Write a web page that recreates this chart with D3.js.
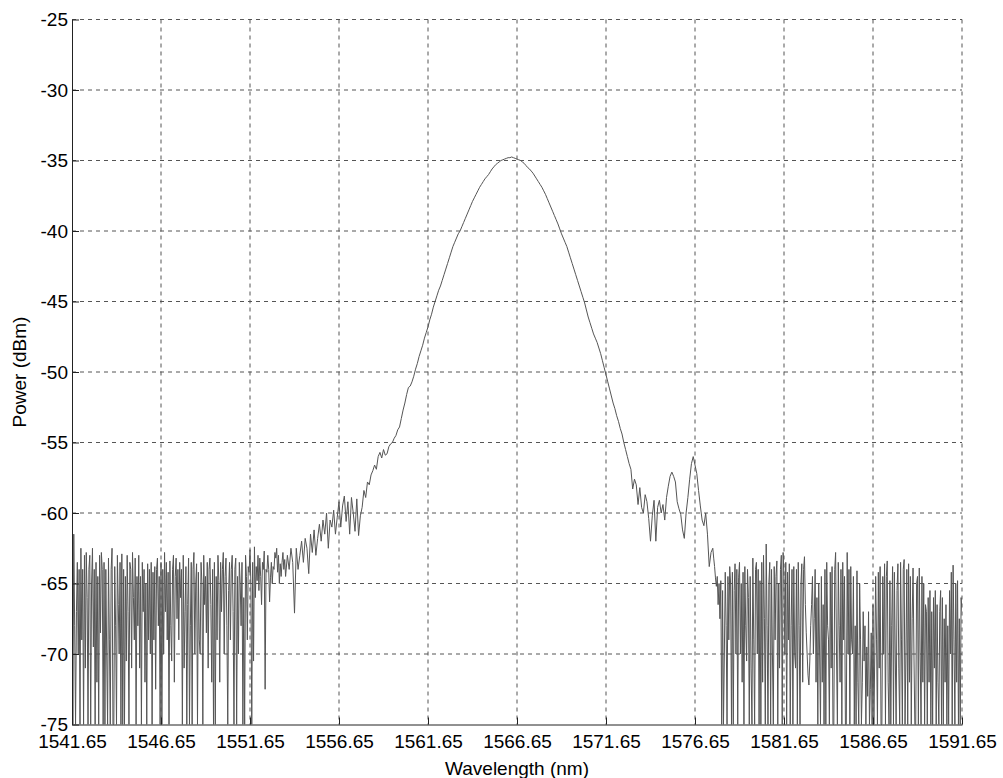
<!DOCTYPE html>
<html>
<head>
<meta charset="utf-8">
<script src="https://cdn.jsdelivr.net/npm/d3@7"></script>
<style>
  html, body { margin: 0; padding: 0; background: #fff; }
  svg { display: block; }
  text { font-family: "Liberation Sans", Arial, sans-serif; fill: #000; }
</style>
</head>
<body>
<svg id="chart" width="1003" height="778"></svg>
<script>
// ---- data ----
const xTickValues = [1541.65, 1546.65, 1551.65, 1556.65, 1561.65, 1566.65, 1571.65, 1576.65, 1581.65, 1586.65, 1591.65];
const yTickValues = [-25, -30, -35, -40, -45, -50, -55, -60, -65, -70, -75];
const xLabel = "Wavelength (nm)";
const yLabel = "Power (dBm)";

// left noise floor: 1541.65 .. 1553.60 nm, every 0.05 nm (dBm, -75 = clipped)
const leftStart = 1541.65, leftStep = 0.05;
const powerLeft = [
  -64.5, -75, -61.5, -68, -75, -67, -63.5, -70, -64, -75,
  -62.5, -69, -64, -75, -63, -71, -62.8, -66, -75, -64,
  -63, -75, -65, -62.5, -69.5, -64, -75, -63.5, -72, -64.5,
  -75, -63, -68.5, -62.8, -64, -75, -63.5, -75, -64, -70,
  -75, -63.2, -69, -75, -64, -62.5, -75, -75, -63.8, -68,
  -75, -63, -66.5, -70, -63.5, -75, -62.9, -75, -64, -75,
  -64.5, -70.5, -63, -67, -75, -63.5, -64, -71, -62.8, -66,
  -69, -63.2, -75, -64.5, -68, -63, -71, -64.5, -75, -63.5,
  -67, -64, -72, -65, -75, -63.6, -69, -64, -70, -63.5,
  -75, -64.2, -69, -63.8, -72.5, -64, -63.2, -68, -64.5, -75,
  -63.5, -75, -64, -70, -62.8, -67, -63.5, -69, -64.2, -75,
  -63.4, -68, -70.5, -64, -63, -72, -64.5, -63.2, -67.5, -64,
  -69, -63.5, -66, -64, -75, -63, -71, -67, -63.8, -75,
  -66.5, -63.2, -75, -68, -63.5, -75, -64, -62.8, -70, -65,
  -63.6, -75, -64.2, -69, -70, -63.5, -65, -75, -63, -66.5,
  -64.5, -68.5, -63.5, -71, -64, -63.2, -66.5, -72, -64, -75,
  -63.5, -75, -64.5, -69, -63, -64.8, -72, -63.5, -67, -64,
  -62.8, -70, -64.5, -63.2, -68, -75, -65.5, -63.5, -69, -64,
  -63, -67, -75, -64, -63.2, -75, -64.5, -70, -63.5, -65,
  -68, -63.5, -75, -66, -75, -63, -64.5, -69, -63.8, -64.2,
  -62.6, -65, -75, -63.5, -70.5, -62.4, -66, -63.8, -64.8, -63,
  -65.5, -63.2, -64.5, -66.5, -63.5, -64, -62.7, -72.5, -64, -64.2,
  -63, -64, -66.3, -64.6, -63.5, -65, -63.8, -64, -62.8, -63.2,
  -62.5, -64.2, -63, -65, -63.6, -64.5, -63.5, -62.8, -64, -63.3
];

// shoulder and main peak: 1553.65 .. 1577.55 nm, every 0.1 nm
const centerStart = 1553.65, centerStep = 0.1;
const powerCenter = [
  -64.5, -63, -64, -62.5, -63.5, -67.1, -62.5, -64, -63, -62,
  -63.5, -61.8, -62.5, -64.3, -61.5, -62.8, -61.2, -63, -61.8, -60.8,
  -62, -60.5, -61.5, -60, -62.5, -60.5, -61, -59.8, -61.5, -60.3,
  -59.2, -61, -59.5, -58.8, -60.6, -59.2, -61.5, -58.9, -60, -61.3,
  -59.0, -61.6, -60.2, -59.6, -58.4, -58.9, -57.8, -58.0, -57.3, -57.0,
  -56.6, -56.9, -56.0, -55.7, -56.1, -55.5, -55.9, -55.8, -55.3, -55.1,
  -55.0, -54.7, -54.5, -54.1, -53.9, -53.3, -52.7, -52.2, -51.6, -51.1,
  -51.0, -50.7, -50.3, -49.8, -49.4, -48.9, -48.5, -48.1, -47.6, -47.2,
  -46.8, -46.3, -45.9, -45.4, -45.0, -44.6, -44.2, -43.9, -43.5, -43.1,
  -42.7, -42.3, -41.9, -41.5, -41.1, -40.8, -40.5, -40.2, -40.0, -39.7,
  -39.4, -39.1, -38.8, -38.5, -38.2, -37.9, -37.65, -37.4, -37.15, -36.9,
  -36.7, -36.5, -36.3, -36.15, -36.0, -35.8, -35.6, -35.45, -35.3, -35.2,
  -35.1, -35.0, -34.95, -34.9, -34.85, -34.8, -34.8, -34.75, -34.8, -34.85,
  -34.9, -34.95, -35.0, -35.1, -35.2, -35.35, -35.5, -35.6, -35.75, -35.9,
  -36.1, -36.3, -36.5, -36.7, -36.9, -37.15, -37.4, -37.7, -38.0, -38.3,
  -38.6, -38.9, -39.2, -39.5, -39.85, -40.2, -40.5, -40.8, -41.1, -41.5,
  -41.9, -42.3, -42.7, -43.1, -43.5, -43.9, -44.3, -44.7, -45.1, -45.6,
  -46.1, -46.5, -46.9, -47.3, -47.6, -47.9, -48.3, -48.7, -49.2, -49.7,
  -50.2, -50.7, -51.2, -51.7, -52.2, -52.6, -53.1, -53.5, -54.0, -54.4,
  -55.0, -55.5, -56.0, -56.5, -56.9, -58.3, -57.6, -58.0, -59.4, -58.2,
  -59.6, -60.0, -58.7, -59.2, -60.4, -62.0, -60.2, -59.1, -62.0, -59.6,
  -59.1, -60.0, -59.4, -60.5, -58.9, -58.1, -57.4, -57.1, -57.4, -57.8,
  -59.2, -59.7, -60.1, -61.2, -61.8, -60.0, -58.9, -57.6, -56.5, -56.0,
  -56.6, -57.2, -58.4, -59.5, -60.5, -60.9, -60.0, -61.5, -63.8, -62.8
];

// right noise floor: 1577.65 .. 1591.65 nm, every 0.05 nm
const rightStart = 1577.65, rightStep = 0.05;
const powerRight = [
  -62.5, -63.2, -63.8, -64.6, -65.2, -64.5, -66.5, -65, -67.5, -64.8,
  -75, -65.5, -75, -70, -64.2, -68, -75, -64.5, -69, -63.8,
  -65, -75, -64.2, -75, -65.5, -63.6, -70, -64, -75, -64.6,
  -63.5, -70, -65, -72, -64.2, -75, -63.8, -68, -70.5, -64,
  -66, -75, -64.5, -71, -75, -63.2, -69, -75, -64, -63.5,
  -70, -64, -75, -64.8, -75, -63.5, -72, -63, -67.5, -75,
  -62.2, -68, -75, -65, -63.5, -75, -64, -70, -75, -63.8,
  -69, -64.5, -63.4, -75, -65, -71, -64, -63, -75, -62.8,
  -64.5, -70, -63.5, -75, -64.2, -69, -63.6, -75, -68, -64,
  -75, -63.8, -70, -71, -64, -75, -63.5, -68, -75, -65,
  -63.6, -72, -64, -63.1, -66.5, -68.5, -70, -71.5, -72.2, -70.5,
  -68, -66.5, -64.5, -70, -67.5, -64, -72, -66, -75, -65,
  -70, -75, -64.5, -72, -66.5, -75, -64, -75, -63.5, -68,
  -69, -75, -64.2, -71, -63.8, -75, -75, -64, -62.8, -70,
  -75, -63.5, -68, -72, -64, -75, -63.5, -69, -64.5, -75,
  -75, -62.8, -70, -64, -75, -63.8, -69, -70, -64.5, -75,
  -68, -75, -64.1, -72, -75, -65, -69, -75, -72, -67,
  -70.5, -68, -75, -69.5, -73, -67, -75, -72.5, -68.5, -75,
  -66.5, -75, -70, -64.5, -69, -75, -64.2, -71, -63.8, -75,
  -75, -64.5, -70, -63.6, -75, -64.5, -63.4, -72, -75, -64.8,
  -75, -68, -63.8, -75, -64.2, -70, -75, -65.5, -63.6, -71,
  -75, -63.5, -69, -75, -64, -63.3, -75, -70, -64, -75,
  -63.6, -72, -64.5, -75, -67.5, -63.9, -70, -75, -75, -65,
  -64.5, -75, -63.9, -70, -75, -64.5, -72, -65, -75, -66.5,
  -67, -75, -66, -72, -65.5, -75, -67, -75, -66, -71,
  -65.5, -75, -66.5, -72, -75, -67, -65.5, -75, -66, -75,
  -67.5, -72, -66.5, -75, -68, -75, -65.5, -70, -64.2, -75,
  -63.7, -69, -75, -65, -72, -64.8, -75, -67.5, -75, -66,
  -67
];

// ---- layout ----
const margin = { left: 72, top: 19.5, right: 41, bottom: 53.5 };
const W = 1003, H = 778;
const plotW = W - margin.left - margin.right;
const plotH = H - margin.top - margin.bottom;

const svg = d3.select("#chart");
const g = svg.append("g").attr("transform", `translate(${margin.left},${margin.top})`);

const x = d3.scaleLinear().domain([xTickValues[0], xTickValues[xTickValues.length - 1]]).range([0, plotW]);
const y = d3.scaleLinear().domain([-75, -25]).range([plotH, 0]).clamp(true);

const toPoints = (start, step, vals) => vals.map((v, i) => ({ w: start + i * step, p: v }));
const data = [].concat(
  toPoints(leftStart, leftStep, powerLeft),
  toPoints(centerStart, centerStep, powerCenter),
  toPoints(rightStart, rightStep, powerRight)
);

// grid
const gridColor = "#555";
g.append("g").selectAll("line")
  .data(xTickValues.slice(1))
  .join("line")
  .attr("x1", d => x(d)).attr("x2", d => x(d))
  .attr("y1", 0).attr("y2", plotH)
  .attr("stroke", gridColor).attr("stroke-width", 1)
  .attr("stroke-dasharray", "4,4");
g.append("g").selectAll("line")
  .data(yTickValues.slice(0, -1))
  .join("line")
  .attr("x1", 0).attr("x2", plotW)
  .attr("y1", d => y(d)).attr("y2", d => y(d))
  .attr("stroke", gridColor).attr("stroke-width", 1)
  .attr("stroke-dasharray", "4,4");

// data line
svg.append("defs").append("clipPath").attr("id", "plotclip")
  .append("rect").attr("x", 0).attr("y", -1).attr("width", plotW).attr("height", plotH + 1);
g.append("path")
  .datum(data)
  .attr("clip-path", "url(#plotclip)")
  .attr("fill", "none")
  .attr("stroke", "#555")
  .attr("stroke-width", 1)
  .attr("d", d3.line().x(d => x(d.w)).y(d => y(d.p)));

// axes (inward ticks)
const fmtX = d => d.toFixed(2);
const fmtY = d => String(d);   // plain hyphen-minus, as in the original
const xAxis = d3.axisBottom(x).tickValues(xTickValues).tickFormat(fmtX).tickSizeInner(-7).tickSizeOuter(0);
const yAxis = d3.axisLeft(y).tickValues(yTickValues).tickFormat(fmtY).tickSizeInner(-7).tickSizeOuter(0);

const gx = g.append("g").attr("transform", `translate(0,${plotH})`).call(xAxis);
const gy = g.append("g").call(yAxis);
[gx, gy].forEach(a => {
  a.select(".domain").attr("stroke", "#222").attr("stroke-width", 1);
  a.selectAll(".tick line").attr("stroke", "#222");
  a.selectAll(".tick text").attr("font-family", "'Liberation Sans', Arial, sans-serif").attr("font-size", 19).attr("fill", "#000");
});
gx.selectAll(".tick text").attr("dy", 0).attr("y", 23);
gy.selectAll(".tick text").attr("x", -4).attr("dy", "0.34em");

// axis labels
svg.append("text")
  .attr("x", margin.left + plotW / 2).attr("y", 775)
  .attr("text-anchor", "middle").attr("font-size", 19)
  .text(xLabel);
svg.append("text")
  .attr("transform", `translate(26,${margin.top + plotH / 2}) rotate(-90)`)
  .attr("text-anchor", "middle").attr("font-size", 19)
  .text(yLabel);
</script>
</body>
</html>
